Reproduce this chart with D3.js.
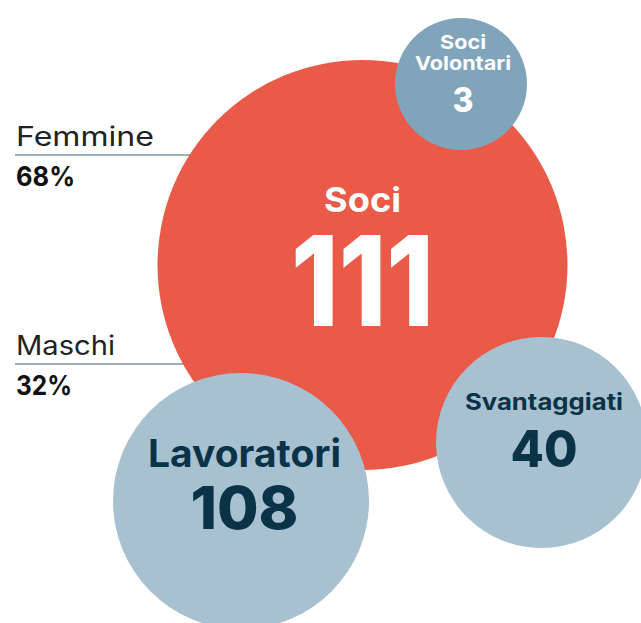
<!DOCTYPE html>
<html>
<head>
<meta charset="utf-8">
<script src="https://cdn.jsdelivr.net/npm/d3@7"></script>
<style>
  html, body { margin: 0; padding: 0; background: #fff; }
  #chart { width: 641px; height: 623px; overflow: hidden; }
  text { font-family: Inter, "Open Sans", sans-serif; }
</style>
</head>
<body>
<div id="chart"></div>
<script>
// values
const bubbleNames = ["Soci", "Soci Volontari", "Svantaggiati", "Lavoratori"];
const bubbleValues = [111, 3, 40, 108];
const genderLabels = ["Femmine", "Maschi"];
const genderShares = [68, 32];

// layout (infographic, circles are not scaled to value)
// widths are there to imitate the wide geometric face of the original
const bubbleLayout = {
    "Soci":           {cx: 362.5, cy: 265, r: 205, fill: "#e95a48", ink: "#ffffff", dx: 0,
                       label: 34, num: 125, lines: ["Soci"], lineW: [77], numW: 143, labelY: -53, numY: 61},
    "Soci Volontari": {cx: 461, cy: 84, r: 66, fill: "#80a4b9", ink: "#ffffff", dx: 2,
                       label: 19, num: 34, lines: ["Soci", "Volontari"], lineW: [46, 96], numW: 21, labelY: -14, numY: 28},
    "Svantaggiati":   {cx: 541.5, cy: 442.5, r: 105.5, fill: "#a8c1d0", ink: "#0b3348", dx: 2.5,
                       label: 23, num: 51, lines: ["Svantaggiati"], lineW: [158], numW: 67, labelY: -32.5, numY: 24.5},
    "Lavoratori":     {cx: 241, cy: 501, r: 128, fill: "#a8c1d0", ink: "#0b3348", dx: 3.5,
                       label: 38, num: 59, lines: ["Lavoratori"], lineW: [193], numW: 108, labelY: -34, numY: 28}
};
const genderLayout = [{y: 155, labelW: 138, shareW: 59}, {y: 364, labelW: 99, shareW: 56}];

const width = 641, height = 623;

const svg = d3.select("#chart")
    .append("svg")
    .attr("width", width)
    .attr("height", height);

const bubbles = bubbleNames.map((name, i) => ({name: name, value: bubbleValues[i], ...bubbleLayout[name]}));

// gender rules go under the circles
const gender = genderLabels.map((label, i) => ({label: label, share: genderShares[i], ...genderLayout[i]}));

svg.selectAll(".rule")
    .data(gender)
    .enter().append("line")
    .attr("class", "rule")
    .attr("x1", 15)
    .attr("x2", 220)
    .attr("y1", d => d.y)
    .attr("y2", d => d.y)
    .style("stroke", "#7b95a5")
    .style("stroke-width", 1.5);

svg.selectAll(".g-label")
    .data(gender)
    .enter().append("text")
    .attr("class", "g-label")
    .attr("x", 16)
    .attr("y", d => d.y - 9)
    .attr("textLength", d => d.labelW)
    .attr("lengthAdjust", "spacingAndGlyphs")
    .style("font-size", "27px")
    .style("font-weight", 400)
    .style("fill", "#222")
    .text(d => d.label);

svg.selectAll(".g-share")
    .data(gender)
    .enter().append("text")
    .attr("class", "g-share")
    .attr("x", 16)
    .attr("y", d => d.y + 30.5)
    .attr("textLength", d => d.shareW)
    .attr("lengthAdjust", "spacingAndGlyphs")
    .style("font-size", "27px")
    .style("font-weight", 700)
    .style("fill", "#111")
    .text(d => d.share + "%");

const node = svg.selectAll(".bubble")
    .data(bubbles)
    .enter().append("g")
    .attr("class", "bubble")
    .attr("transform", d => `translate(${d.cx},${d.cy})`);

node.append("circle")
    .attr("r", d => d.r)
    .style("fill", d => d.fill);

node.each(function(d) {
    const g = d3.select(this);
    const lh = d.label * 1.1;
    d.lines.forEach((line, j) => {
        g.append("text")
            .attr("text-anchor", "middle")
            .attr("x", d.dx)
            .attr("y", d.labelY - (d.lines.length - 1 - j) * lh)
            .attr("textLength", d.lineW[j])
            .attr("lengthAdjust", "spacingAndGlyphs")
            .style("font-size", d.label + "px")
            .style("font-weight", 700)
            .style("fill", d.ink)
            .text(line);
    });
    g.append("text")
        .attr("text-anchor", "middle")
        .attr("x", d.dx)
        .attr("y", d.numY)
        .attr("textLength", d.numW)
        .attr("lengthAdjust", "spacingAndGlyphs")
        .style("font-size", d.num + "px")
        .style("font-weight", 800)
        .style("fill", d.ink)
        .text(d3.format("d")(d.value));
});
</script>
</body>
</html>
